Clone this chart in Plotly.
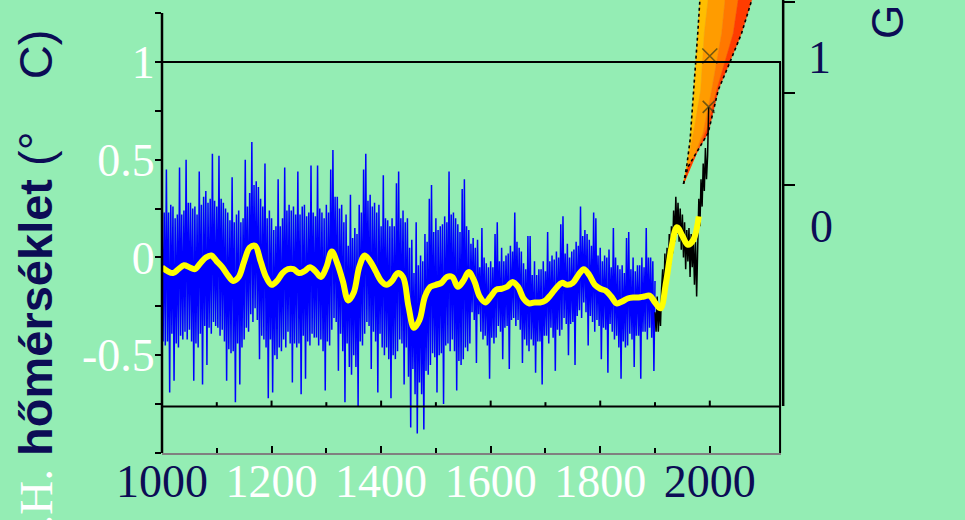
import plotly.graph_objects as go

BG = "#94EDB4"
NAVY = "#0c0c55"

# ---------------- data ----------------
BLUE_YEARS = list(range(1000, 1901, 2))
BLUE_VALUES = [
    0.27, -0.43, 0.23, -0.45, 0.45,
    -0.43, 0.23, -0.69, 0.27, -0.39,
    0.26, -0.63, 0.20, -0.44, 0.22,
    -0.46, 0.46, -0.40, 0.22, -0.42,
    0.24, -0.38, 0.50, -0.42, 0.28,
    -0.37, 0.28, -0.43, 0.25, -0.63,
    0.26, -0.44, 0.22, -0.46, 0.44,
    -0.39, 0.27, -0.65, 0.31, -0.35,
    0.34, -0.55, 0.28, -0.36, 0.30,
    -0.39, 0.53, -0.33, 0.29, -0.35,
    0.26, -0.36, 0.52, -0.40, 0.30,
    -0.37, 0.28, -0.43, 0.25, -0.63,
    0.23, -0.47, 0.19, -0.49, 0.41,
    -0.48, 0.18, -0.74, 0.22, -0.44,
    0.24, -0.65, 0.18, -0.46, 0.20,
    -0.42, 0.50, -0.36, 0.26, -0.38,
    0.33, -0.29, 0.59, -0.33, 0.37,
    -0.26, 0.39, -0.32, 0.36, -0.52,
    0.30, -0.40, 0.26, -0.42, 0.48,
    -0.46, 0.20, -0.72, 0.24, -0.42,
    0.20, -0.69, 0.14, -0.50, 0.16,
    -0.52, 0.40, -0.46, 0.16, -0.48,
    0.20, -0.42, 0.46, -0.46, 0.24,
    -0.38, 0.27, -0.44, 0.24, -0.64,
    0.26, -0.44, 0.22, -0.46, 0.44,
    -0.44, 0.22, -0.70, 0.26, -0.40,
    0.27, -0.62, 0.21, -0.43, 0.23,
    -0.45, 0.47, -0.39, 0.23, -0.41,
    0.21, -0.41, 0.47, -0.45, 0.25,
    -0.42, 0.23, -0.48, 0.20, -0.68,
    0.27, -0.43, 0.23, -0.45, 0.45,
    -0.37, 0.55, -0.31, 0.31, -0.33,
    0.31, -0.58, 0.25, -0.39, 0.27,
    -0.48, 0.18, -0.74, 0.22, -0.44,
    0.06, -0.56, 0.32, -0.60, 0.10,
    -0.50, 0.15, -0.56, 0.12, -0.76,
    0.27, -0.43, 0.23, -0.45, 0.45,
    -0.39, 0.53, -0.33, 0.29, -0.35,
    0.32, -0.57, 0.26, -0.38, 0.28,
    -0.43, 0.23, -0.69, 0.27, -0.39,
    0.16, -0.46, 0.42, -0.50, 0.20,
    -0.46, 0.19, -0.52, 0.16, -0.72,
    0.20, -0.50, 0.16, -0.52, 0.38,
    -0.48, 0.44, -0.42, 0.20, -0.44,
    0.24, -0.65, 0.18, -0.46, 0.20,
    -0.61, 0.05, -0.87, 0.09, -0.57,
    -0.08, -0.70, 0.18, -0.90, -0.04,
    -0.64, 0.01, -0.70, -0.02, -0.88,
    0.12, -0.58, 0.08, -0.60, 0.30,
    -0.55, 0.37, -0.49, 0.13, -0.51,
    0.20, -0.69, 0.14, -0.50, 0.16,
    -0.49, 0.17, -0.75, 0.21, -0.45,
    0.18, -0.44, 0.44, -0.48, 0.22,
    -0.42, 0.23, -0.48, 0.20, -0.68,
    0.17, -0.53, 0.13, -0.55, 0.35,
    -0.52, 0.40, -0.46, 0.16, -0.48,
    0.14, -0.44, 0.07, -0.28, 0.10,
    -0.32, 0.05, -0.54, 0.09, -0.29,
    -0.05, -0.38, 0.15, -0.42, 0.00,
    -0.40, -0.03, -0.45, -0.05, -0.62,
    -0.02, -0.41, -0.05, -0.44, 0.12,
    -0.41, 0.18, -0.35, -0.02, -0.38,
    0.05, -0.52, -0.02, -0.36, 0.01,
    -0.35, 0.02, -0.57, 0.06, -0.32,
    0.03, -0.31, 0.23, -0.35, 0.08,
    -0.32, 0.05, -0.37, 0.03, -0.54,
    -0.03, -0.42, -0.06, -0.45, 0.11,
    -0.48, 0.11, -0.42, -0.09, -0.45,
    -0.02, -0.59, -0.09, -0.43, -0.06,
    -0.43, -0.06, -0.65, -0.02, -0.40,
    -0.07, -0.40, 0.13, -0.44, -0.02,
    -0.36, 0.01, -0.41, -0.01, -0.58,
    0.03, -0.37, 0.00, -0.40, 0.17,
    -0.37, 0.21, -0.31, 0.02, -0.34,
    0.07, -0.50, 0.00, -0.34, 0.03,
    -0.33, 0.04, -0.55, 0.08, -0.30,
    0.06, -0.27, 0.26, -0.31, 0.11,
    -0.23, 0.14, -0.28, 0.12, -0.45,
    0.09, -0.30, 0.06, -0.33, 0.23,
    -0.38, 0.20, -0.32, 0.01, -0.35,
    0.05, -0.52, -0.02, -0.36, 0.01,
    -0.37, 0.00, -0.59, 0.04, -0.34,
    -0.05, -0.38, 0.15, -0.42, 0.00,
    -0.40, -0.04, -0.46, -0.06, -0.62,
    -0.04, -0.43, -0.08, -0.46, 0.10,
    -0.45, 0.13, -0.39, -0.06, -0.42,
    0.00, -0.56, -0.07, -0.40, -0.04,
    -0.40, -0.04, -0.62, 0.00, -0.38,
    -0.05, -0.38, 0.15, -0.42, 0.00,
    -0.36, 0.00, -0.41, -0.02, -0.58,
    -0.12,
]

BLACK_YEARS = list(range(1900, 1999, 2))
BLACK_VALUES = [
    -0.28, -0.38, -0.20, -0.38, -0.24, -0.35, -0.16, -0.06, -0.24, 0.02,
    -0.14, 0.05, -0.12, 0.12, -0.04, 0.16, 0.02, 0.24, 0.08, 0.31,
    0.12, 0.28, 0.08, 0.25, 0.04, 0.22, 0.00, 0.18, -0.06, 0.14,
    -0.02, 0.15, -0.10, 0.12, -0.05, 0.10, -0.14, 0.08, -0.20, 0.06,
    0.30, 0.16, 0.40, 0.26, 0.48, 0.34, 0.56, 0.40, 0.52, 0.77,
]

SMOOTH_YEARS = list(range(1000, 1981, 10))
SMOOTH_VALUES = [
    -0.05, -0.07, -0.08, -0.06, -0.04, -0.05, -0.06, -0.03, 0.00, 0.01,
    -0.02, -0.05, -0.09, -0.12, -0.10, -0.02, 0.05, 0.06, -0.02, -0.10,
    -0.14, -0.12, -0.08, -0.06, -0.06, -0.08, -0.07, -0.05, -0.07, -0.10,
    -0.05, 0.03, -0.03, -0.12, -0.22, -0.18, -0.05, 0.01, -0.02, -0.07,
    -0.12, -0.14, -0.12, -0.08, -0.10, -0.25, -0.36, -0.32, -0.20, -0.15,
    -0.14, -0.13, -0.10, -0.10, -0.15, -0.12, -0.075, -0.12, -0.20, -0.23,
    -0.20, -0.165, -0.16, -0.15, -0.125, -0.15, -0.21, -0.235, -0.23, -0.23,
    -0.22, -0.19, -0.155, -0.13, -0.14, -0.13, -0.09, -0.06, -0.09, -0.14,
    -0.16, -0.17, -0.20, -0.235, -0.225, -0.21, -0.205, -0.205, -0.20, -0.195,
    -0.23, -0.26, -0.13, 0.05, 0.155, 0.11, 0.065, 0.09, 0.21,
]

MARK_YEARS = [2000, 1998]
MARK_VALUES = [1.03, 0.77]
MARK_SIZES = [15, 12]

# projection fan: boundaries between coloured bands (left edge -> right edge)
FAN_A_YEARS = [1952, 1958, 1964, 1971, 1978, 1982]
FAN_A_VALUES = [0.376, 0.47, 0.60, 0.856, 1.146, 1.32]
FAN_B_YEARS = [1952, 1970, 1983.4, 1990, 1997]
FAN_B_VALUES = [0.376, 0.636, 0.856, 1.146, 1.32]
FAN_C_YEARS = [1952, 1987.6, 2003.5, 2021.7, 2028]
FAN_C_VALUES = [0.376, 0.636, 0.856, 1.146, 1.32]
FAN_D_YEARS = [1952, 1995, 2012.6, 2042.9, 2052]
FAN_D_VALUES = [0.376, 0.66, 0.856, 1.146, 1.32]
FAN_E_YEARS = [1952, 1960, 1997, 2015.5, 2037, 2058, 2077]
FAN_E_VALUES = [0.376, 0.462, 0.636, 0.856, 1.0, 1.146, 1.32]
FAN_COLORS = ["#FFBE00", "#FF9C00", "#FF7800", "#FF3C00"]

X_TICKS = [1000, 1200, 1400, 1600, 1800, 2000]
X_TICK_COLORS = [NAVY, "white", "white", "white", "white", NAVY]
X_MINOR = [1100, 1300, 1500, 1700, 1900]
Y_TICKS = [-1.0, -0.75, -0.5, -0.25, 0.0, 0.25, 0.5, 0.75, 1.0, 1.25]
Y_TICK_TEXT = ["", "", "-0.5", "", "0", "", "0.5", "", "1", ""]

BOX_TOP = 1.0
BOX_BOTTOM = -0.762
X_RANGE = [1000, 2130]
Y_RANGE = [-1.0, 1.3165]

# ---------------- figure ----------------
fig = go.Figure()

fan_curves = [
    (FAN_A_YEARS, FAN_A_VALUES),
    (FAN_B_YEARS, FAN_B_VALUES),
    (FAN_C_YEARS, FAN_C_VALUES),
    (FAN_D_YEARS, FAN_D_VALUES),
    (FAN_E_YEARS, FAN_E_VALUES),
]
for i, col in enumerate(FAN_COLORS):
    (xl, yl), (xr, yr) = fan_curves[i], fan_curves[i + 1]
    fig.add_trace(go.Scatter(
        x=list(xl) + list(xr)[::-1], y=list(yl) + list(yr)[::-1],
        fill="toself", fillcolor=col, mode="lines",
        line=dict(width=0.5, color=col), hoverinfo="skip", showlegend=False))
for xs, ys in (fan_curves[0], fan_curves[-1]):
    fig.add_trace(go.Scatter(x=xs, y=ys, mode="lines",
                             line=dict(color="black", width=1.6, dash="dot"),
                             hoverinfo="skip", showlegend=False))

fig.add_trace(go.Scatter(x=BLUE_YEARS, y=BLUE_VALUES, mode="lines",
                         line=dict(color="#0000FF", width=1.5, simplify=False),
                         showlegend=False))
fig.add_trace(go.Scatter(x=BLACK_YEARS, y=BLACK_VALUES, mode="lines",
                         line=dict(color="black", width=1.5, simplify=False),
                         showlegend=False))
fig.add_trace(go.Scatter(x=SMOOTH_YEARS, y=SMOOTH_VALUES, mode="lines",
                         line=dict(color="#FFFF00", width=6, shape="spline", smoothing=1.0),
                         showlegend=False))
fig.add_trace(go.Scatter(x=MARK_YEARS, y=MARK_VALUES, mode="markers",
                         marker=dict(symbol="x-thin", size=MARK_SIZES,
                                     line=dict(color="#3a3a18", width=1.6)),
                         showlegend=False))

# frame lines
shapes = []
shapes.append(dict(type="line", xref="paper", yref="y", x0=0, x1=0, y0=-1.0, y1=1.25,
                   line=dict(color="black", width=2.5)))
shapes.append(dict(type="line", xref="paper", yref="y", x0=0, x1=1, y0=BOX_TOP, y1=BOX_TOP,
                   line=dict(color="black", width=2)))
shapes.append(dict(type="line", xref="paper", yref="y", x0=0, x1=1, y0=BOX_BOTTOM, y1=BOX_BOTTOM,
                   line=dict(color="black", width=2)))
shapes.append(dict(type="line", xref="paper", yref="y", x0=0.9985, x1=0.9985, y0=-1.0, y1=BOX_TOP,
                   line=dict(color="black", width=2)))
for yr in X_TICKS + X_MINOR:
    ln = 0.03 if yr in X_TICKS else 0.022
    shapes.append(dict(type="line", xref="x", yref="y", x0=yr, x1=yr,
                       y0=BOX_BOTTOM, y1=BOX_BOTTOM + ln,
                       line=dict(color="black", width=2)))
shapes.append(dict(type="line", xref="paper", yref="paper", x0=1.0035, x1=1.0035,
                   y0=0.1038, y1=1.0, line=dict(color="black", width=2.5)))
for py in [0.9956, 0.7947, 0.5916]:
    shapes.append(dict(type="line", xref="paper", yref="paper", x0=1.0035, x1=1.0226,
                       y0=py, y1=py, line=dict(color="black", width=2)))
fig.update_layout(shapes=shapes)

ann = []
ann.append(dict(
    text=('<span style="font-family:Liberation Serif;font-weight:normal;color:white">É.H.</span> '
          '<b>hőmérséklet</b> (°\u00a0\u00a0\u00a0\u00a0C)'),
    xref="paper", yref="paper", x=-0.205, y=0.937, xanchor="center", yanchor="top",
    textangle=-90, showarrow=False,
    font=dict(family="Liberation Sans", size=47, color=NAVY)))
ann.append(dict(text="1", xref="paper", yref="paper", x=1.063, y=0.874,
                xanchor="center", yanchor="middle", showarrow=False,
                font=dict(family="Liberation Serif", size=46, color=NAVY)))
ann.append(dict(text="0", xref="paper", yref="paper", x=1.066, y=0.499,
                xanchor="center", yanchor="middle", showarrow=False,
                font=dict(family="Liberation Serif", size=46, color=NAVY)))
ann.append(dict(text="G", xref="paper", yref="paper", x=1.171, y=0.951,
                xanchor="center", yanchor="middle", showarrow=False, textangle=-90,
                font=dict(family="Liberation Sans", size=44, color=NAVY)))
fig.update_layout(annotations=ann)

fig.update_layout(
    width=965, height=520,
    margin=dict(l=162, r=184, t=0, b=67, pad=0),
    paper_bgcolor=BG, plot_bgcolor=BG,
    showlegend=False,
    xaxis=dict(
        range=X_RANGE, showgrid=False, zeroline=False,
        showline=True, linecolor="#808080", linewidth=2,
        tickmode="array", tickvals=X_TICKS,
        ticktext=[f'<span style="color:{c}">{v}</span>' for v, c in zip(X_TICKS, X_TICK_COLORS)],
        ticks="inside", ticklen=7, tickwidth=2, tickcolor="black",
        ticklabelstandoff=-13,
        tickfont=dict(family="Liberation Serif", size=46, color="white"),
        minor=dict(tickvals=X_MINOR, ticks="inside", ticklen=5, tickwidth=2, tickcolor="black"),
    ),
    yaxis=dict(
        range=Y_RANGE, showgrid=False, zeroline=False, showline=False,
        tickmode="array", tickvals=Y_TICKS, ticktext=Y_TICK_TEXT,
        ticks="outside", ticklen=6, tickwidth=2, tickcolor="black",
        ticklabelstandoff=-9,
        tickfont=dict(family="Liberation Serif", size=46, color="white"),
    ),
)

fig.write_html("out.html", config={"displayModeBar": False},
               post_script="document.body.style.margin='0';")
